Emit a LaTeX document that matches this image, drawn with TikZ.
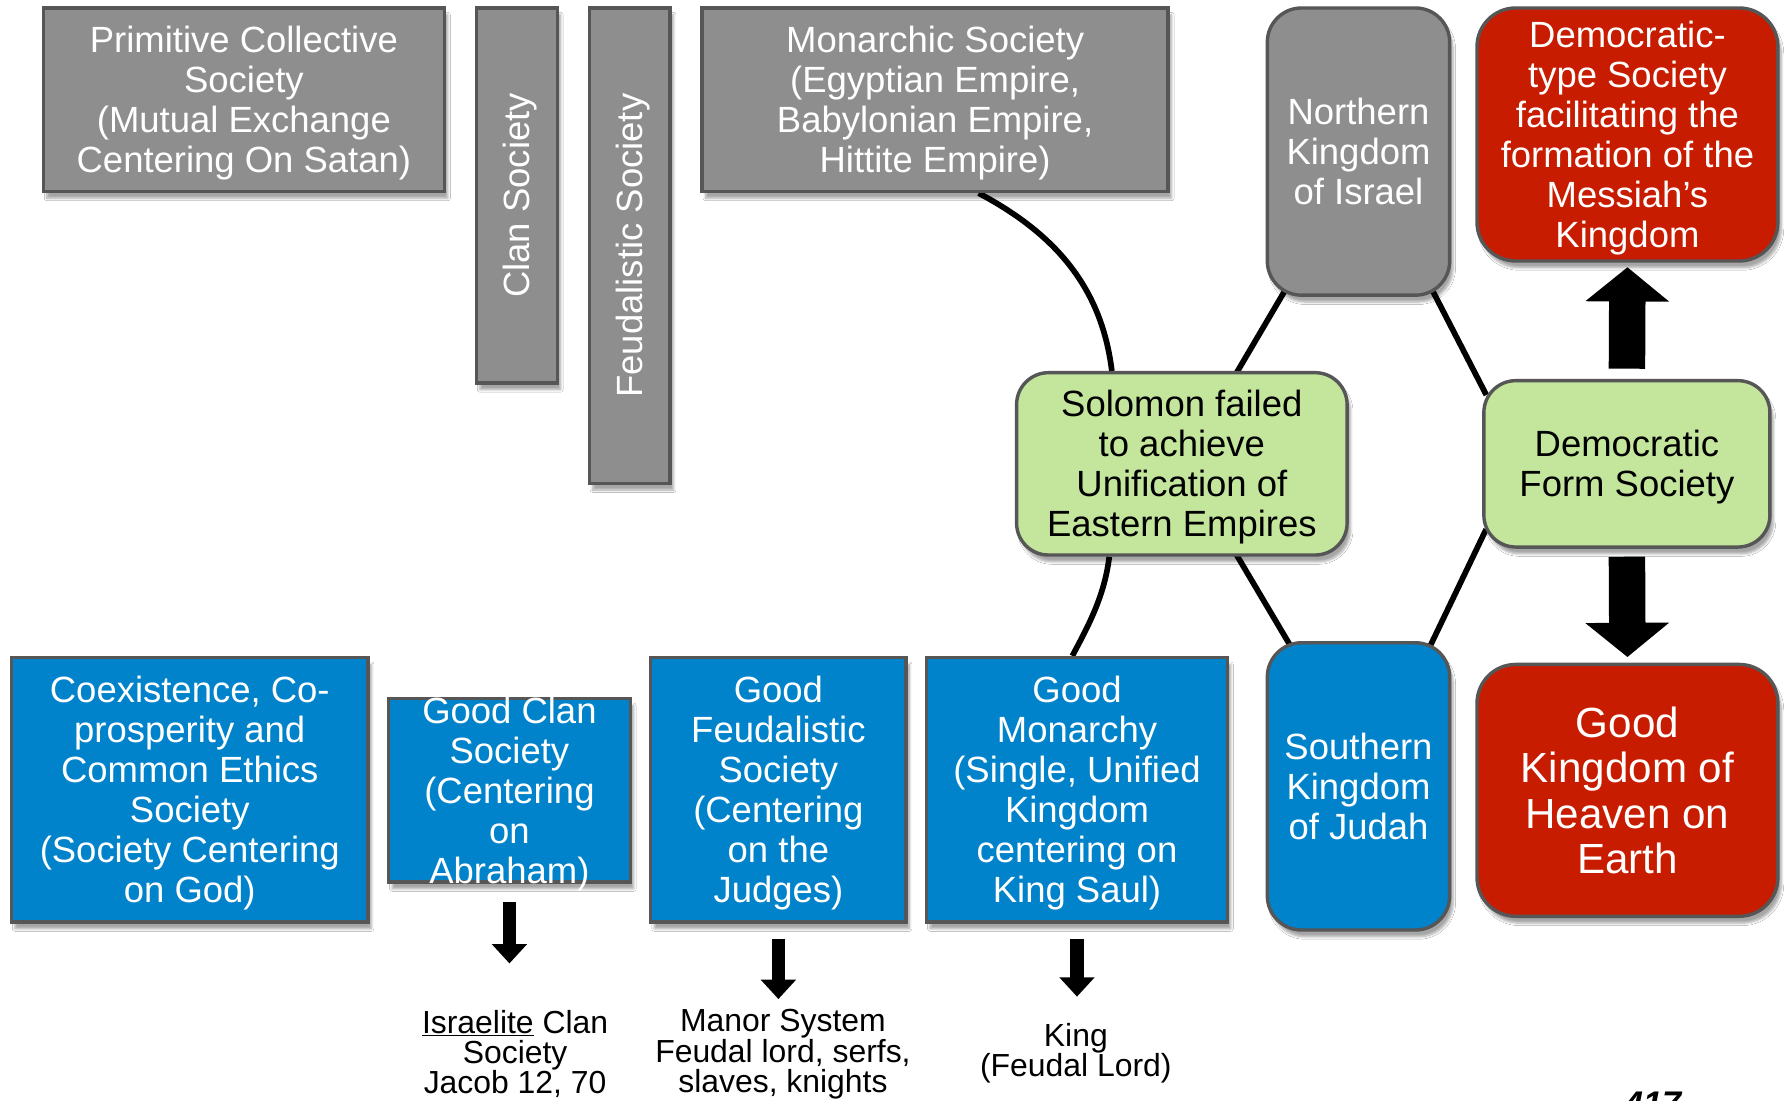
\documentclass[tikz,border=0pt]{standalone}
\usepackage{fontspec}
\setmainfont{Liberation Sans}
\usetikzlibrary{arrows.meta,shadows.blur,calc,backgrounds}
\definecolor{boxgray}{HTML}{8E8E8E}
\definecolor{edgegray}{HTML}{565656}
\definecolor{boxblue}{HTML}{0083CA}
\definecolor{boxred}{HTML}{C81C00}
\definecolor{boxgreen}{HTML}{C4E59C}
\begin{document}
\begin{tikzpicture}[x=1pt,y=-1pt,
  base/.style={draw=edgegray, line width=3pt, inner sep=0pt,
    blur shadow={shadow xshift=3pt, shadow yshift=-6pt, shadow opacity=35, shadow blur steps=6}},
  graybox/.style={base, fill=boxgray},
  bluebox/.style={base, fill=boxblue},
  redbox/.style={base, fill=boxred, rounded corners=34pt},
  greenbox/.style={base, fill=boxgreen, rounded corners=28pt},
  boxtext/.style={inner sep=0pt, align=center, text=white, font=\fontsize{32}{35}\selectfont},
  darktext/.style={boxtext, text=black},
  note/.style={inner sep=0pt, align=center, text=black, font=\fontsize{28}{26.5}\selectfont},
  link/.style={line width=5pt, black},
  bigarrow/.style={line width=32pt, black, -{Triangle[width=72pt,length=30pt]}},
  smallarrow/.style={line width=12pt, black, -{Triangle[width=30pt,length=17pt]}}
]
\useasboundingbox (0,0) rectangle (1568,966);

% ---------- top row ----------
\node[graybox, minimum width=352pt, minimum height=161pt] (prim) at (214,87.5) {};
\node[boxtext] (primtext) at ($(prim.center)+(0,3)$)
  {Primitive Collective\\Society\\(Mutual Exchange\\Centering On Satan)};
\node[graybox, minimum width=71pt, minimum height=329pt] (clan) at (453.5,171.5) {};
\node[boxtext, rotate=90] (clantext) at ($(clan.center)+(3,0)$) {Clan Society};
\node[graybox, minimum width=71pt, minimum height=417pt] (feud) at (552.5,215.5) {};
\node[boxtext, rotate=90] (feudtext) at ($(feud.center)+(3,0)$) {Feudalistic Society};
\node[graybox, minimum width=409pt, minimum height=161pt] (mon) at (820.5,87.5) {};
\node[boxtext] (montext) at ($(mon.center)+(0,3)$)
  {Monarchic Society\\(Egyptian Empire,\\Babylonian Empire,\\Hittite Empire)};
\node[graybox, rounded corners=30pt, minimum width=160pt, minimum height=252pt] (north) at (1192,133) {};
\node[boxtext] (northtext) at (north.center) {Northern\\Kingdom\\of Israel};
\node[redbox, minimum width=264pt, minimum height=222pt] (demtype) at (1428,118) {};
\node[boxtext] (demtypetext) at ($(demtype.center)+(0,3)$)
  {Democratic-\\type Society\\facilitating the\\formation of the\\Messiah’s\\Kingdom};

% ---------- middle ----------
\node[greenbox, minimum width=290pt, minimum height=160pt] (sol) at (1037,407) {};
\node[darktext] (soltext) at ($(sol.center)+(0,3)$)
  {Solomon failed\\to achieve\\Unification of\\Eastern Empires};
\node[greenbox, minimum width=251pt, minimum height=146pt] (demform) at (1427.5,407) {};
\node[darktext] (demformtext) at ($(demform.center)+(0,3)$) {Democratic\\Form Society};

% ---------- bottom row ----------
\node[bluebox, minimum width=313pt, minimum height=232pt] (coex) at (166.5,693) {};
\node[boxtext] (coextext) at ($(coex.center)+(0,3)$)
  {Coexistence, Co-\\prosperity and\\Common Ethics\\Society\\(Society Centering\\on God)};
\node[bluebox, minimum width=212pt, minimum height=161pt] (gclan) at (447,693.5) {};
\node[boxtext] (gclantext) at ($(gclan.center)+(0,3)$)
  {Good Clan\\Society\\(Centering\\on\\Abraham)};
\node[bluebox, minimum width=224pt, minimum height=232pt] (gfeud) at (683,693) {};
\node[boxtext] (gfeudtext) at ($(gfeud.center)+(0,3)$)
  {Good\\Feudalistic\\Society\\(Centering\\on the\\Judges)};
\node[bluebox, minimum width=264pt, minimum height=232pt] (gmon) at (945,693) {};
\node[boxtext] (gmontext) at ($(gmon.center)+(0,3)$)
  {Good\\Monarchy\\(Single, Unified\\Kingdom\\centering on\\King Saul)};
\node[bluebox, rounded corners=30pt, minimum width=160pt, minimum height=252pt] (south) at (1192,690) {};
\node[boxtext] (southtext) at (south.center) {Southern\\Kingdom\\of Judah};
\node[redbox, minimum width=264pt, minimum height=221pt] (gking) at (1428,693.5) {};
\node[boxtext, font=\fontsize{37}{40}\selectfont] (gkingtext) at (gking.center)
  {Good\\Kingdom of\\Heaven on\\Earth};

% ---------- notes ----------
\node[note] (israel) at (452,925) {\underline{Israelite} Clan\\Society\\Jacob 12, 70};
\node[note] (manor) at (687,925) {Manor System\\Feudal lord, serfs,\\slaves, knights};
\node[note] (king) at (944,924) {King\\(Feudal Lord)};
\node[inner sep=0pt, anchor=north, font=\fontsize{30}{32}\selectfont\bfseries\itshape] (page) at (1450,958) {417};

% ---------- connectors and white ground ----------
\begin{scope}[on background layer]
\fill[white] (0,0) rectangle (1568,966);
\draw[link] (mon.-65) .. controls +(28:75) and +(-97:75) .. (sol.127.8);
\draw[link] (sol.232.2) .. controls +(97:35) and +(-62:30) .. (gmon.92.5);
\draw[link, shorten <=-8pt, shorten >=-8pt] (north.242) -- (sol.59);
\draw[link, shorten <=-8pt, shorten >=-8pt] (north.-62.4) -- (demform.152.8);
\draw[link, shorten <=-8pt, shorten >=-8pt] (sol.-59) -- (south.116.6);
\draw[link, shorten <=-8pt, shorten >=-8pt] (demform.207.6) -- (south.63);
\end{scope}

\draw[bigarrow, shorten <=9pt, shorten >=4pt] (demform.north) -- (demtype.south);
\draw[bigarrow, shorten <=7pt, shorten >=5pt] (demform.south) -- (gking.north);

\draw[smallarrow, shorten <=16pt, shorten >=41pt] (gclan.south) -- (gclan.south |- israel.north);
\draw[smallarrow, shorten <=13pt, shorten >=9pt] (gfeud.south) -- (gfeud.south |- manor.north);
\draw[smallarrow, shorten <=13pt, shorten >=23pt] (gmon.south) -- (gmon.south |- king.north);
\end{tikzpicture}
\end{document}
